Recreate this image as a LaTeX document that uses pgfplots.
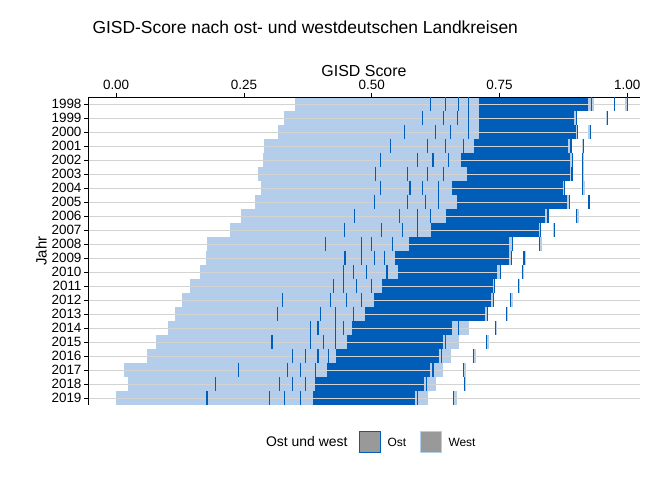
\documentclass[border=0pt]{standalone}
\usepackage{pgfplots}
\pgfplotsset{compat=1.18}
\usepackage{fontspec}
\setmainfont{Liberation Sans}
\definecolor{ost}{RGB}{0,94,184}
\definecolor{west}{RGB}{180,205,234}
\definecolor{gridg}{RGB}{211,211,211}
\begin{document}
\begin{tikzpicture}[x=1bp,y=1bp]
\path[use as bounding box] (0,0) rectangle (672,480);
\begin{axis}[at={(88bp,75bp)},anchor=south west,scale only axis,width=552bp,height=308bp,
 xmin=-0.055,xmax=1.025,ymin=-0.5,ymax=21.5,y dir=reverse,
 axis x line*=top, axis y line*=left, axis line style={black,line width=0.8pt,-},
 xtick={0,0.25,0.5,0.75,1}, xticklabels={0.00,0.25,0.50,0.75,1.00},
 ytick={0,...,21}, yticklabels={1998,1999,2000,2001,2002,2003,2004,2005,2006,2007,2008,2009,2010,2011,2012,2013,2014,2015,2016,2017,2018,2019},
 tick align=outside, tick style={black,line width=0.6pt}, major tick length=4bp,
 ymajorgrids, grid style={gridg,line width=0.8pt}, axis on top,
 tick label style={font=\fontsize{13.5}{14}\selectfont},
 yticklabel style={xshift=1bp},
 /pgf/number format/assume math mode=true,
 xlabel={GISD Score}, xlabel style={font=\fontsize{16}{17}\selectfont,yshift=-4bp},
 ylabel={Jahr}, ylabel style={font=\fontsize{15}{16}\selectfont,yshift=-2bp},
 unbounded coords=jump]
\addplot[west,line width=14bp] coordinates {
(0.350,0) (1.000,0) (nan,0)
(0.329,1) (0.962,1) (nan,1)
(0.316,2) (0.928,2) (nan,2)
(0.290,3) (0.915,3) (nan,3)
(0.287,4) (0.915,4) (nan,4)
(0.278,5) (0.915,5) (nan,5)
(0.284,6) (0.917,6) (nan,6)
(0.271,7) (0.928,7) (nan,7)
(0.245,8) (0.906,8) (nan,8)
(0.222,9) (0.859,9) (nan,9)
(0.177,10) (0.833,10) (nan,10)
(0.176,11) (0.801,11) (nan,11)
(0.165,12) (0.798,12) (nan,12)
(0.145,13) (0.791,13) (nan,13)
(0.128,14) (0.776,14) (nan,14)
(0.116,15) (0.767,15) (nan,15)
(0.101,16) (0.746,16) (nan,16)
(0.079,17) (0.729,17) (nan,17)
(0.060,18) (0.704,18) (nan,18)
(0.015,19) (0.684,19) (nan,19)
(0.023,20) (0.684,20) (nan,20)
(0.000,21) (0.666,21)
};
\addplot[white,line width=14bp] coordinates {
(0.935,0) (0.996,0) (nan,0)
(0.902,1) (0.958,1) (nan,1)
(0.902,2) (0.924,2) (nan,2)
(0.890,3) (0.911,3) (nan,3)
(0.893,4) (0.911,4) (nan,4)
(0.893,5) (0.911,5) (nan,5)
(0.879,6) (0.913,6) (nan,6)
(0.888,7) (0.924,7) (nan,7)
(0.845,8) (0.902,8) (nan,8)
(0.832,9) (0.855,9) (nan,9)
(0.776,10) (0.829,10) (nan,10)
(0.774,11) (0.797,11) (nan,11)
(0.752,12) (0.794,12) (nan,12)
(0.742,13) (0.787,13) (nan,13)
(0.738,14) (0.772,14) (nan,14)
(0.728,15) (0.763,15) (nan,15)
(0.690,16) (0.742,16) (nan,16)
(0.670,17) (0.725,17) (nan,17)
(0.655,18) (0.700,18) (nan,18)
(0.640,19) (0.680,19) (nan,19)
(0.625,20) (0.680,20) (nan,20)
(0.610,21) (0.662,21)
};
\addplot[ost,line width=14bp] coordinates {
(0.710,0) (0.924,0) (nan,0)
(0.710,1) (0.895,1) (nan,1)
(0.710,2) (0.899,2) (nan,2)
(0.700,3) (0.885,3) (nan,3)
(0.675,4) (0.888,4) (nan,4)
(0.686,5) (0.888,5) (nan,5)
(0.657,6) (0.874,6) (nan,6)
(0.666,7) (0.883,7) (nan,7)
(0.646,8) (0.840,8) (nan,8)
(0.616,9) (0.827,9) (nan,9)
(0.574,10) (0.769,10) (nan,10)
(0.545,11) (0.769,11) (nan,11)
(0.552,12) (0.746,12) (nan,12)
(0.520,13) (0.737,13) (nan,13)
(0.505,14) (0.733,14) (nan,14)
(0.487,15) (0.722,15) (nan,15)
(0.462,16) (0.657,16) (nan,16)
(0.451,17) (0.639,17) (nan,17)
(0.430,18) (0.632,18) (nan,18)
(0.412,19) (0.614,19) (nan,19)
(0.390,20) (0.603,20) (nan,20)
(0.386,21) (0.585,21)
};
\addplot[only marks,mark=|,mark size=7bp,ost,mark options={line width=1.2bp}] coordinates {
(0.615,0) (0.645,0) (0.670,0) (0.690,0) (0.930,0) (0.975,0) (1.000,0)
(0.600,1) (0.640,1) (0.668,1) (0.690,1) (0.900,1) (0.962,1)
(0.565,2) (0.625,2) (0.655,2) (0.690,2) (0.903,2) (0.928,2)
(0.537,3) (0.610,3) (0.645,3) (0.680,3) (0.890,3) (0.915,3)
(0.518,4) (0.590,4) (0.620,4) (0.650,4) (0.893,4) (0.912,4)
(0.508,5) (0.570,5) (0.610,5) (0.640,5) (0.892,5) (0.912,5)
(0.518,6) (0.575,6) (0.600,6) (0.630,6) (0.878,6) (0.913,6)
(0.505,7) (0.570,7) (0.605,7) (0.630,7) (0.887,7) (0.925,7)
(0.467,8) (0.555,8) (0.590,8) (0.615,8) (0.845,8) (0.900,8)
(0.447,9) (0.520,9) (0.560,9) (0.590,9) (0.830,9) (0.857,9)
(0.410,10) (0.480,10) (0.500,10) (0.540,10) (0.775,10) (0.828,10)
(0.448,11) (0.480,11) (0.505,11) (0.525,11) (0.773,11) (0.798,11)
(0.445,12) (0.465,12) (0.490,12) (0.530,12) (0.752,12) (0.795,12)
(0.425,13) (0.445,13) (0.470,13) (0.500,13) (0.740,13) (0.788,13)
(0.325,14) (0.420,14) (0.450,14) (0.480,14) (0.738,14) (0.772,14)
(0.315,15) (0.400,15) (0.430,15) (0.465,15) (0.727,15) (0.763,15)
(0.380,16) (0.395,16) (0.430,16) (0.445,16) (0.670,16) (0.742,16)
(0.305,17) (0.380,17) (0.405,17) (0.430,17) (0.645,17) (0.725,17)
(0.345,18) (0.370,18) (0.395,18) (0.415,18) (0.636,18) (0.700,18)
(0.240,19) (0.335,19) (0.360,19) (0.390,19) (0.620,19) (0.680,19)
(0.194,20) (0.320,20) (0.345,20) (0.370,20) (0.608,20) (0.682,20)
(0.178,21) (0.300,21) (0.330,21) (0.360,21) (0.590,21) (0.660,21)
};
\end{axis}
\node[anchor=west,font=\fontsize{17.5}{19}\selectfont] at (89,453) {GISD-Score nach ost- und westdeutschen Landkreisen};
\node[anchor=east,font=\fontsize{14}{15}\selectfont] at (351,38) {Ost und west};
\draw[ost,fill={rgb,255:red,153;green,153;blue,153},line width=0.8pt] (359,28) rectangle (380,49);
\node[anchor=west,font=\fontsize{12}{13}\selectfont] at (384,38) {Ost};
\draw[west,fill={rgb,255:red,153;green,153;blue,153},line width=0.8pt] (420,28) rectangle (441,49);
\node[anchor=west,font=\fontsize{12}{13}\selectfont] at (445,38) {West};
\end{tikzpicture}
\end{document}
